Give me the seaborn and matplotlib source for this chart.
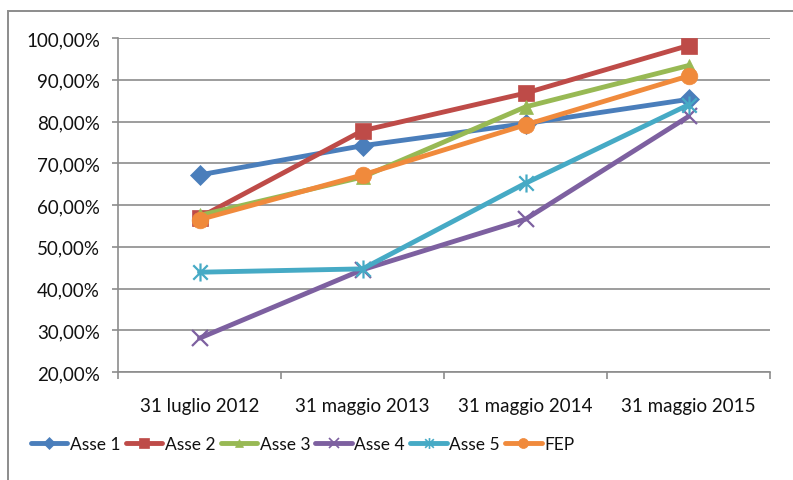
import matplotlib
matplotlib.use("Agg")
import matplotlib.pyplot as plt
import seaborn as sns
import pandas as pd
import numpy as np
from matplotlib.path import Path
from matplotlib.patches import Rectangle
from matplotlib.lines import Line2D
from matplotlib.ticker import FuncFormatter, FixedLocator

# Categories and series values (fraction of target reached)
dates = ["31 luglio 2012", "31 maggio 2013", "31 maggio 2014", "31 maggio 2015"]
series_names = ["Asse 1", "Asse 2", "Asse 3", "Asse 4", "Asse 5", "FEP"]
asse1 = [0.672, 0.742, 0.795, 0.853]
asse2 = [0.570, 0.778, 0.868, 0.982]
asse3 = [0.575, 0.667, 0.835, 0.934]
asse4 = [0.281, 0.445, 0.566, 0.812]
asse5 = [0.439, 0.447, 0.652, 0.840]
fep = [0.565, 0.672, 0.792, 0.909]
y_ticks = [0.2, 0.3, 0.4, 0.5, 0.6, 0.7, 0.8, 0.9, 1.0]

colors = ["#4A7EBB", "#BE4B48", "#98B954", "#7D60A0", "#46AAC5", "#F08A3C"]

# Excel-style "star" marker: an x with a vertical stroke through it
star = Path(
    [(-1, -1), (1, 1), (-1, 1), (1, -1), (0, -1.25), (0, 1.25)],
    [Path.MOVETO, Path.LINETO, Path.MOVETO, Path.LINETO, Path.MOVETO, Path.LINETO],
)
markers = ["D", "s", "^", "x", star, "o"]
marker_sizes = [10, 11, 10, 12, 13, 12]

values = [asse1, asse2, asse3, asse4, asse5, fep]
rows = []
for name, vals in zip(series_names, values):
    for i, (d, v) in enumerate(zip(dates, vals)):
        rows.append({"pos": i, "data": d, "serie": name, "valore": v})
df = pd.DataFrame(rows)

sns.set_theme(style="white")
plt.rcParams["font.family"] = ["Lato", "DejaVu Sans"]

fig = plt.figure(figsize=(7.93, 4.81), dpi=100)
ax = fig.add_axes([118 / 793, 1 - 373 / 481, (770 - 118) / 793, (373 - 39) / 481])

grid_col = "#8C8C8C"
text_col = "#111111"

for idx, name in enumerate(series_names):
    sub = df[df["serie"] == name]
    sns.lineplot(
        data=sub, x="pos", y="valore", ax=ax,
        color=colors[idx], linewidth=3.5,
        marker=markers[idx], markersize=marker_sizes[idx],
        markeredgecolor=colors[idx], markerfacecolor=colors[idx],
        markeredgewidth=1.6 if idx in (3, 4) else 0.5,
        legend=False, zorder=3 + idx,
    )

ax.set_xlim(-0.5, len(dates) - 0.5)
ax.set_ylim(0.2, 1.0)
ax.yaxis.set_major_locator(FixedLocator(y_ticks))
ax.yaxis.set_major_formatter(FuncFormatter(lambda v, _: f"{v * 100:.2f}%".replace(".", ",")))
ax.set_xticks(range(len(dates)))
ax.set_xticklabels(dates)
ax.set_xticks(np.arange(-0.5, len(dates), 1.0), minor=True)

ax.grid(axis="y", color=grid_col, linewidth=1.2)
ax.set_axisbelow(True)
for s in ("top", "right"):
    ax.spines[s].set_visible(False)
for s in ("left", "bottom"):
    ax.spines[s].set_color(grid_col)
    ax.spines[s].set_linewidth(1.2)

ax.tick_params(axis="y", which="major", left=True, length=4, width=1.2, color=grid_col,
               labelsize=13.5, labelcolor=text_col, pad=9)
ax.tick_params(axis="x", which="major", bottom=False, labelsize=13.5, labelcolor=text_col, pad=12)
ax.tick_params(axis="x", which="minor", bottom=True, length=5, width=1.2, color=grid_col)
ax.set_xlabel("")
ax.set_ylabel("")

# Legend along the bottom
handles = [
    Line2D([], [], color=colors[i], linewidth=3.5, marker=markers[i],
           markersize=marker_sizes[i] * 0.6, markeredgecolor=colors[i],
           markerfacecolor=colors[i], markeredgewidth=1.2 if i in (3, 4) else 0.5)
    for i in range(len(series_names))
]
fig.legend(handles, series_names, loc="center left", bbox_to_anchor=(31 / 793, 1 - 445 / 481),
           ncol=6, frameon=False, fontsize=12.5, labelcolor=text_col,
           handlelength=2.1, handletextpad=0.15, columnspacing=0.3,
           borderaxespad=0, borderpad=0)

# Chart area border
fig.add_artist(Rectangle((8 / 793, -0.1), 1.2, 1 - 12 / 481 + 0.1, transform=fig.transFigure,
                         fill=False, edgecolor=grid_col, linewidth=1.4))

fig.savefig("out.png", dpi=100)
